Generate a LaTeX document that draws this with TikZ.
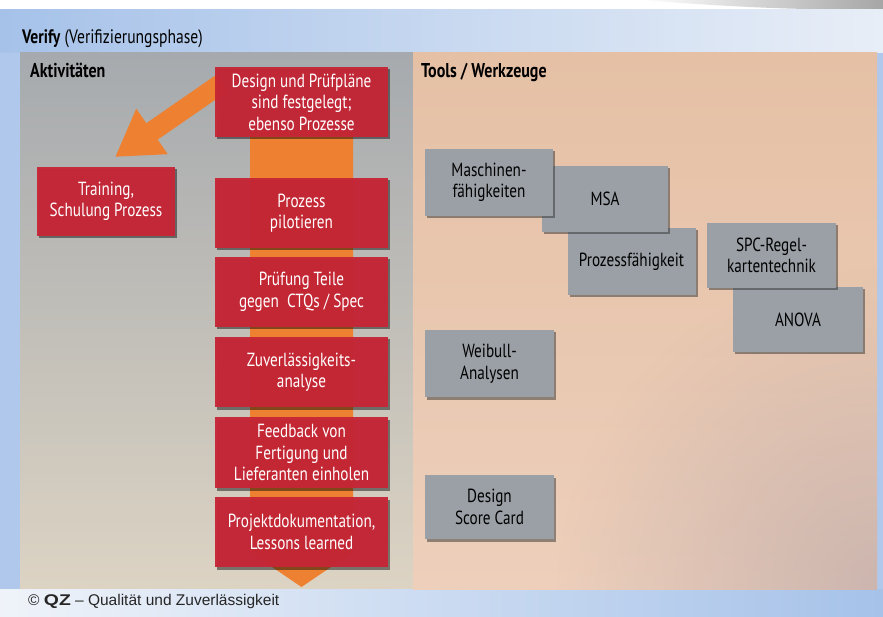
\documentclass[tikz,border=0pt]{standalone}
\usepackage{fontspec}
\setmainfont{PT Sans}[FakeStretch=0.8]
\newfontfamily\footfont{Liberation Sans}
\newfontfamily\logofont{Liberation Sans}[FakeStretch=1.25]
\usetikzlibrary{shadows,arrows.meta,fadings}

\definecolor{skyL}{RGB}{166,194,233}
\definecolor{skyR}{RGB}{232,238,247}
\definecolor{skyM}{RGB}{176,200,236}
\definecolor{actTop}{RGB}{166,170,174}
\definecolor{actBot}{RGB}{220,211,195}
\definecolor{toolTop}{RGB}{229,192,165}
\definecolor{toolBot}{RGB}{237,207,187}
\definecolor{toolDim}{RGB}{186,168,168}
\definecolor{flowOrange}{RGB}{238,128,50}
\definecolor{stepRed}{RGB}{198,38,54}
\definecolor{toolGray}{RGB}{155,160,166}

\tikzfading[name=cornerfade, inner color=transparent!35, outer color=transparent!100]

\tikzset{
  txt/.style={font=\fontsize{19}{21.5}\selectfont},
  redbox/.style={txt, rectangle, fill=stepRed, fill opacity=0.96, text opacity=1,
    text=white, align=center, minimum width=173pt, minimum height=70pt, inner sep=0pt,
    drop shadow={shadow xshift=2pt, shadow yshift=-2.5pt, opacity=0.45, fill=black}},
  toolbox/.style={txt, rectangle, fill=toolGray, text=black, align=center,
    minimum width=128pt, minimum height=67pt, inner sep=0pt,
    drop shadow={shadow xshift=2pt, shadow yshift=-2.5pt, opacity=0.5, fill=black!80}},
  heading/.style={font=\fontsize{20}{22}\selectfont\bfseries, text=black,
    anchor=base west, inner sep=0pt},
}

\begin{document}
\begin{tikzpicture}[x=1pt,y=-1pt]
\useasboundingbox (0,0) rectangle (883,617);

% page background
\fill[white] (0,0) rectangle (883,10);
\shade[left color=white, right color=black!35] (640,0) -- (883,0) -- (883,9)
  .. controls (800,11) and (720,6) .. (640,0) -- cycle;
\fill[skyM] (0,10) rectangle (883,617);
\shade[left color=skyL, right color=skyR] (0,10) rectangle (883,53);
\shade[left color=skyR!70!white, right color=skyL] (0,589) rectangle (883,617);

% activity panel and tool panel
\shade[top color=actTop, bottom color=actBot] (20,53) rectangle (413,588);
\shade[top color=toolTop, bottom color=toolBot] (413,53) rectangle (877,589);
\begin{scope}
  \clip (413,53) rectangle (877,589);
  \fill[toolDim, path fading=cornerfade] (877,589) circle (320);
\end{scope}

% titles
\node[anchor=base west, inner sep=0pt, font=\fontsize{19.5}{22}\selectfont, text=black]
  (title) at (22,44) {\textbf{Verify} (Verifizierungsphase)};
\node[heading] (hAct) at (30,78) {Aktivitäten};
\node[heading] (hTools) at (421,78) {Tools / Werkzeuge};

% process flow band behind the steps
\fill[flowOrange] (250,130) -- (353,130) -- (353,552) -- (301.5,587) -- (250,552) -- cycle;

% arrow pointing to the training step
\coordinate (arrowTail) at (222,83);
\coordinate (arrowTip) at (115,157);
\draw[flowOrange, line width=20pt, -{Triangle[length=45pt,width=52pt]}] (arrowTail) -- (arrowTip);

% activity steps
\node[redbox] (s1) at (301.5,102) {Design und Prüfpläne\\sind festgelegt;\\ebenso Prozesse};
\node[redbox] (s2) at (301.5,213) {Prozess\\pilotieren};
\node[redbox] (s3) at (301.5,292) {Prüfung Teile\\gegen~ CTQs / Spec};
\node[redbox] (s4) at (301.5,372) {Zuverlässigkeits-\\analyse};
\node[redbox, minimum height=71pt] (s5) at (301.5,452.5) {Feedback von\\Fertigung und\\Lieferanten einholen};
\node[redbox] (s6) at (301.5,532) {Projektdokumentation,\\Lessons learned};
\node[redbox, minimum width=138pt, minimum height=69pt] (train) at (106,201.5) {Training,\\Schulung Prozess};

% tools
\node[toolbox] (prozfaeh) at (631.5,261.5) {Prozessfähigkeit};
\node[toolbox, minimum width=126pt, minimum height=66pt] (msa) at (605,199) {MSA};
\node[toolbox] (maschfaeh) at (489,182.5) {Maschinen-\\fähigkeiten};
\node[toolbox, minimum width=130pt, minimum height=65pt] (anova) at (798,319.5) {ANOVA};
\node[toolbox, minimum width=129pt, minimum height=65pt] (spc) at (771.5,255.5) {SPC-Regel-\\kartentechnik};
\node[toolbox, minimum width=129pt] (weibull) at (489.5,363.5) {Weibull-\\Analysen};
\node[toolbox, minimum width=129pt, minimum height=64pt] (dsc) at (489.5,507) {Design\\Score Card};

% credit line
\node[anchor=base west, inner sep=0pt, font=\footfont\fontsize{15.5}{18}\selectfont, text=black!85]
  (credit) at (28,605) {© {\logofont\bfseries QZ} – Qualität und Zuverlässigkeit};
\end{tikzpicture}
\end{document}
